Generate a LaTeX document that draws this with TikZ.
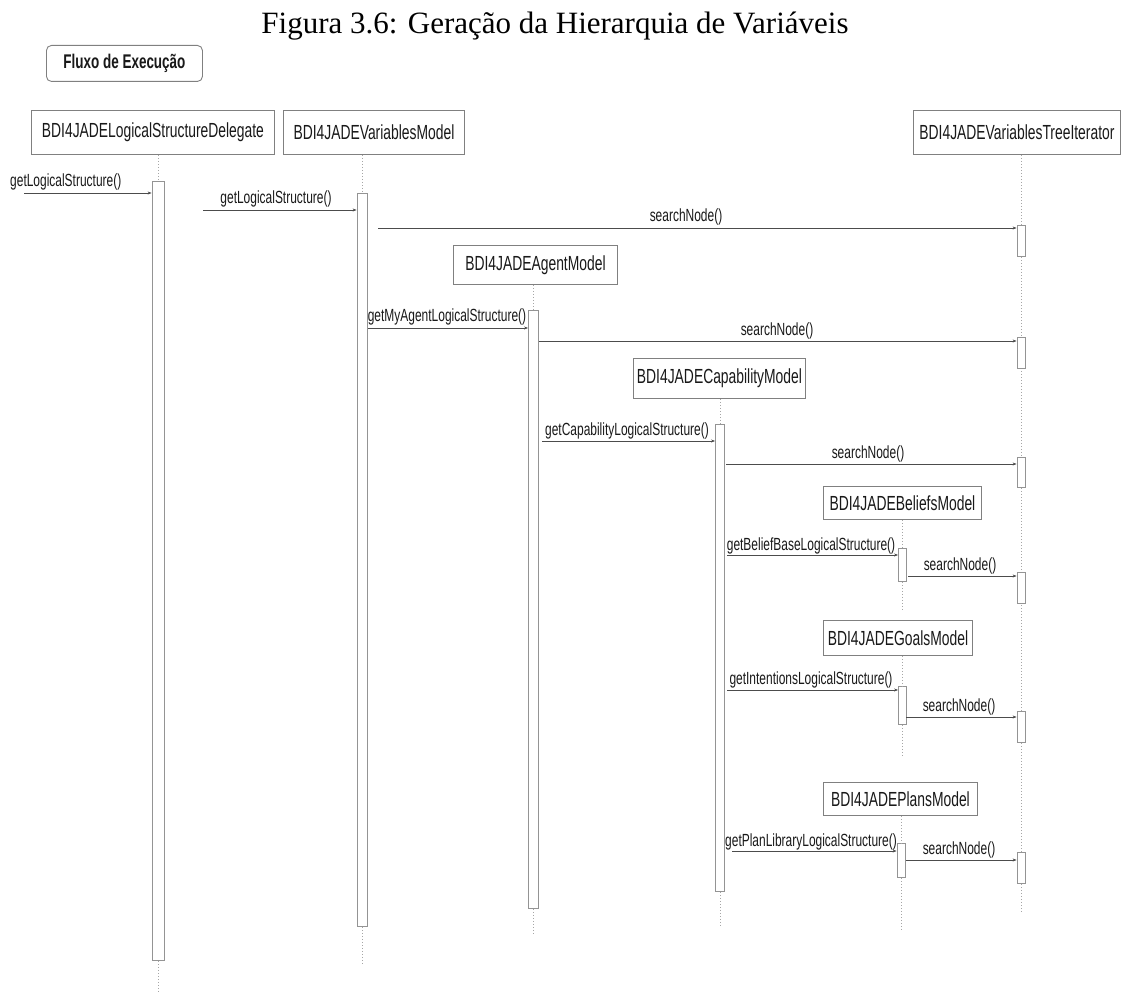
\documentclass[tikz,border=0pt]{standalone}
\usepackage{fontspec}
\setmainfont{Liberation Serif}
\newfontfamily\narrowsans[FakeStretch=0.68]{Liberation Sans}
\usetikzlibrary{arrows.meta}
\begin{document}
\begin{tikzpicture}[x=1pt,y=-1pt,
  lbox/.style={draw=black!50,fill=white,line width=0.9pt,inner sep=0pt,
    font=\narrowsans\fontsize{20.4}{22}\selectfont,text=black!90,anchor=north west},
  flux/.style={draw=black!50,fill=white,line width=0.9pt,rounded corners=5pt,inner sep=0pt,
    font=\narrowsans\bfseries\fontsize{19.8}{22}\selectfont,text=black!90,anchor=north west},
  act/.style={draw=black!42,fill=white,line width=0.8pt,inner sep=0pt,anchor=north},
  life/.style={draw=black!35,line width=0.6pt,dash pattern=on 1.5pt off 1.5pt},
  msg/.style={draw=black!70,line width=0.7pt,-{Stealth[length=4pt,width=3pt]}},
  lbl/.style={font=\narrowsans\fontsize{17.6}{19}\selectfont,text=black!90,inner sep=0pt,anchor=base}
]
\useasboundingbox (0,0) rectangle (1127,992);

% title
\node[font=\fontsize{31}{34}\selectfont,anchor=base,inner sep=0pt] (title) at (555,34)
  {Figura 3.6: Geração da Hierarquia de Variáveis};

\node[flux,minimum width=156,minimum height=36] (flux) at (46,45) {Fluxo de Execução};

% lifeline heads
\node[lbox,minimum width=243,minimum height=44] (b1) at (31,110) {BDI4JADELogicalStructureDelegate};
\node[lbox,minimum width=181,minimum height=44] (b2) at (283,110) {BDI4JADEVariablesModel};
\node[lbox,minimum width=207,minimum height=44] (b3) at (913,110) {BDI4JADEVariablesTreeIterator};

% iterator lifeline
\coordinate (l3end) at (1021,913);
\draw[life] (b3.south -| l3end) -- (l3end);

% activations of top lifelines
\node[act,minimum width=12,minimum height=779] (a1) at (158,181) {};
\node[act,minimum width=10,minimum height=733] (a2) at (362,193) {};
\draw[life] (b1.south -| a1.north) -- (a1.north);
\draw[life] (a1.south) -- ++(0,31);
\draw[life] (b2.south -| a2.north) -- (a2.north);
\draw[life] (a2.south) -- ++(0,38);

% iterator activations
\node[act,minimum width=8,minimum height=31] (i1) at (1021,225) {};
\node[act,minimum width=8,minimum height=31] (i2) at (1021,337) {};
\node[act,minimum width=8,minimum height=30] (i3) at (1021,457) {};
\node[act,minimum width=8,minimum height=31] (i4) at (1021,572) {};
\node[act,minimum width=8,minimum height=31] (i5) at (1021,711) {};
\node[act,minimum width=8,minimum height=31] (i6) at (1021,852) {};

% agent model
\node[lbox,minimum width=164,minimum height=39] (b4) at (453,245) {BDI4JADEAgentModel};
\node[act,minimum width=10,minimum height=598] (a4) at (533.5,310) {};
\draw[life] (b4.south -| a4.north) -- (a4.north);
\draw[life] (a4.south) -- ++(0,26);

% capability model
\node[lbox,minimum width=172,minimum height=40] (b5) at (633,358) {BDI4JADECapabilityModel};
\node[act,minimum width=9,minimum height=467] (a5) at (720,424) {};
\draw[life] (b5.south -| a5.north) -- (a5.north);
\draw[life] (a5.south) -- ++(0,34);

% beliefs model
\node[lbox,minimum width=158,minimum height=33] (b6) at (823,486) {BDI4JADEBeliefsModel};
\node[act,minimum width=8,minimum height=33] (a6) at (902.5,548) {};
\draw[life] (b6.south -| a6.north) -- (a6.north);
\draw[life] (a6.south) -- ++(0,30);

% goals model
\node[lbox,minimum width=149,minimum height=35] (b7) at (823,620) {BDI4JADEGoalsModel};
\node[act,minimum width=8,minimum height=38] (a7) at (902.5,686) {};
\draw[life] (b7.south -| a7.north) -- (a7.north);
\draw[life] (a7.south) -- ++(0,31);

% plans model
\node[lbox,minimum width=154,minimum height=33] (b8) at (823,782) {BDI4JADEPlansModel};
\node[act,minimum width=8,minimum height=34] (a8) at (901,843) {};
\draw[life] (b8.south -| a8.north) -- (a8.north);
\draw[life] (a8.south) -- ++(0,53);

% messages
\coordinate (m1) at (24,193);
\draw[msg] (m1) -- (m1 -| a1.west);
\node[lbl,anchor=base west] (t1) at (10,187) {getLogicalStructure()};

\coordinate (m2) at (203,210);
\draw[msg] (m2) -- (m2 -| a2.west);
\node[lbl] (t2) at (276,204) {getLogicalStructure()};

\coordinate (m3) at (378,228);
\draw[msg] (m3) -- (m3 -| i1.west);
\node[lbl] (t3) at (686,222) {searchNode()};

\coordinate (m4) at (368,328);
\draw[msg] (m4) -- (m4 -| a4.west);
\node[lbl] (t4) at (447,322) {getMyAgentLogicalStructure()};

\coordinate (m5) at (539,341);
\draw[msg] (m5) -- (m5 -| i2.west);
\node[lbl] (t5) at (777,335) {searchNode()};

\coordinate (m6) at (542,441);
\draw[msg] (m6) -- (m6 -| a5.west);
\node[lbl] (t6) at (627,435) {getCapabilityLogicalStructure()};

\coordinate (m7) at (726,464);
\draw[msg] (m7) -- (m7 -| i3.west);
\node[lbl] (t7) at (868,458) {searchNode()};

\coordinate (m8) at (727,555);
\draw[msg] (m8) -- (m8 -| a6.west);
\node[lbl] (t8) at (811,550) {getBeliefBaseLogicalStructure()};

\coordinate (m9) at (908,576);
\draw[msg] (m9) -- (m9 -| i4.west);
\node[lbl] (t9) at (960,570) {searchNode()};

\coordinate (m10) at (727,690);
\draw[msg] (m10) -- (m10 -| a7.west);
\node[lbl] (t10) at (811,684) {getIntentionsLogicalStructure()};

\coordinate (m11) at (906,717);
\draw[msg] (m11) -- (m11 -| i5.west);
\node[lbl] (t11) at (959,711) {searchNode()};

\coordinate (m12) at (732,851);
\draw[msg] (m12) -- (m12 -| a8.west);
\node[lbl] (t12) at (811,846) {getPlanLibraryLogicalStructure()};

\coordinate (m13) at (906,860);
\draw[msg] (m13) -- (m13 -| i6.west);
\node[lbl] (t13) at (959,854) {searchNode()};
\end{tikzpicture}
\end{document}
